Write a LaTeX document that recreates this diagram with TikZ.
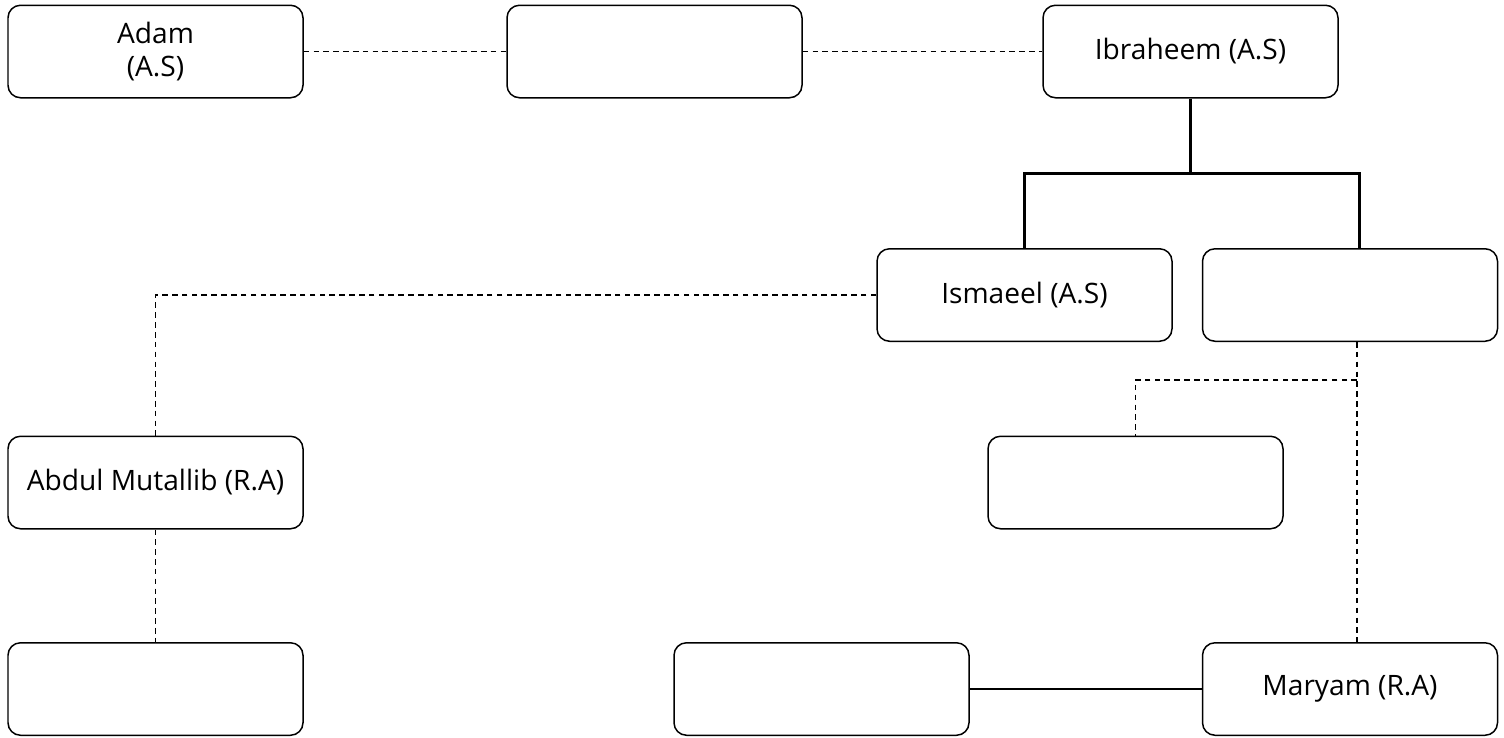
\documentclass[tikz,border=0pt]{standalone}
\usepackage{fontspec}
\setmainfont{Open Sans}
\begin{document}
\begin{tikzpicture}[
        person/.style={draw,line width=0.85pt,rounded corners=0.25cm,
            minimum width=5.9cm,minimum height=1.85cm,align=center,
            font=\fontsize{16}{19}\selectfont},
        link/.style={line width=0.8pt,dash pattern=on 3.2pt off 2.4pt},
        descent/.style={line width=1.7pt},
        marriage/.style={line width=0.85pt}]
                \useasboundingbox (0,0) rectangle (30.08,-14.74);
                \path
                    (3.11,-1.03) node[person] (adam) {Adam\\(A.S)}
                    (13.09,-1.03) node[person] (gapone) {}
                    (23.81,-1.03) node[person] (ibraheem) {Ibraheem (A.S)};
                \path
                    (20.49,-5.90) node[person] (ismaeel) {Ismaeel (A.S)}
                    (27.00,-5.90) node[person] (ishaq) {};
                \path
                    (3.11,-9.65) node[person] (mutallib) {Abdul Mutallib (R.A)}
                    (22.71,-9.65) node[person] (gaptwo) {};
                \path
                    (3.11,-13.78) node[person] (gapthree) {}
                    (16.43,-13.78) node[person] (spouse) {}
                    (27.00,-13.78) node[person] (maryam) {Maryam (R.A)};
                \coordinate (fork) at (23.81,-3.46);
                \coordinate (split) at (27.14,-7.60);
                \draw[link]
                    (adam.east) -- (gapone.west);
                \draw[link]
                    (gapone.east) -- (ibraheem.west);
                \draw[descent]
                    (ibraheem.south) -- (fork);
                \draw[descent]
                    (ismaeel.north) |- (fork);
                \draw[descent]
                    ([xshift=0.18cm]ishaq.north) |- (fork);
                \draw[link]
                    (ismaeel.west) -| (mutallib.north);
                \draw[link]
                    (mutallib.south) -- (gapthree.north);
                \draw[link]
                    ([xshift=0.14cm]ishaq.south) -- ([xshift=0.14cm]maryam.north);
                \draw[link]
                    (split) -| (gaptwo.north);
                \draw[marriage]
                    (spouse.east) -- (maryam.west);
            \end{tikzpicture}
\end{document}
